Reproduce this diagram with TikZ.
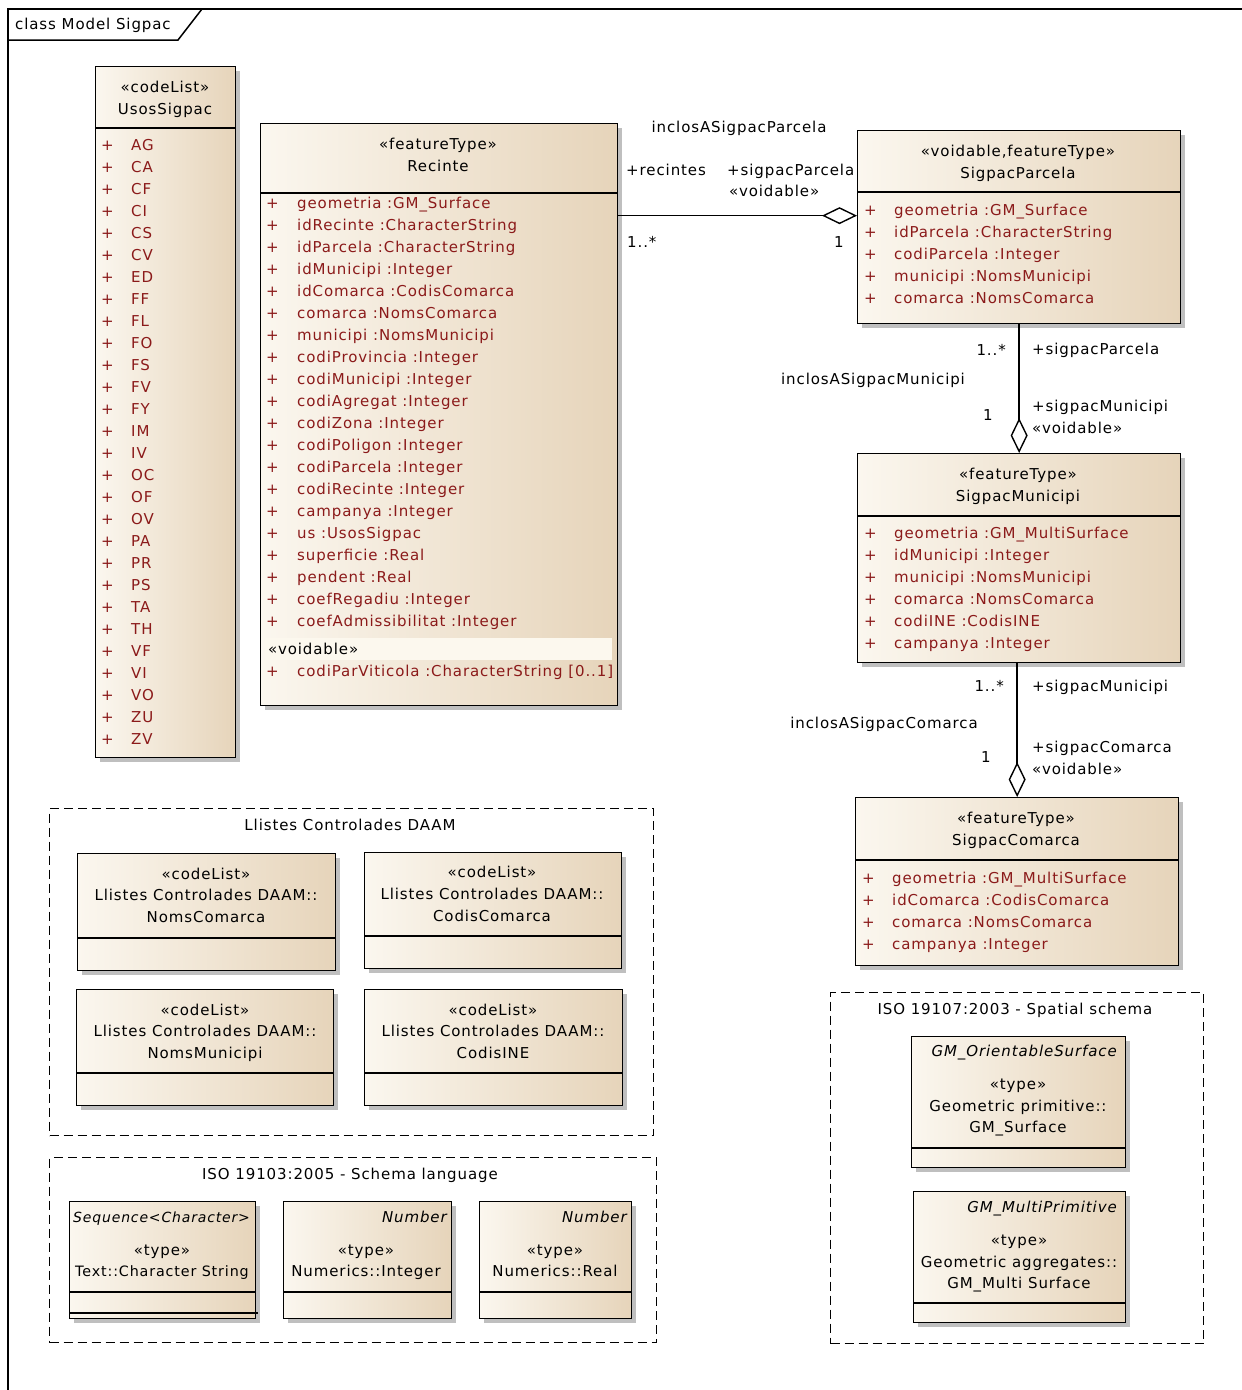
\documentclass[tikz,border=0pt]{standalone}
\usepackage{fontspec}
\setmainfont{DejaVu Sans}[LetterSpace=6]
\usetikzlibrary{positioning,shadows,arrows.meta}

\definecolor{umlpale}{HTML}{FBF7EF}
\definecolor{umltan}{HTML}{E6D4BA}
\definecolor{umlattr}{HTML}{8B1A1A}
\definecolor{umlband}{HTML}{FCF8EE}

\tikzset{
  umlclass/.style={draw, line width=1.3pt, anchor=north west, inner sep=0pt,
    left color=umlpale, right color=umltan,
    drop shadow={shadow xshift=4pt, shadow yshift=-4pt, fill=black, opacity=.25}},
  umlpkg/.style={draw, line width=1.2pt, dash pattern=on 9pt off 5pt,
    anchor=north west, inner sep=0pt},
  lbl/.style={inner sep=0pt, text height=11pt, text depth=0pt,
    font=\fontsize{15}{18}\selectfont},
  attr/.style={lbl, anchor=west, text=umlattr},
  sep/.style={line width=1.3pt},
  aggr/.style={line width=1.4pt, -{Diamond[open, length=35pt, width=17pt]}},
}

\begin{document}
\begin{tikzpicture}[x=1pt, y=-1pt]
\useasboundingbox (0,0) rectangle (1242,1390);
\fill[white] (0,0) rectangle (1242,1390);

% diagram frame
\draw[line width=1.5pt] (1242,9) -- (8,9) -- (8,1390);
\draw[line width=1.5pt] (8,40) -- (178,40) -- (202,9);
\node[lbl, anchor=west] (frame) at (15,24) {class Model Sigpac};

% UsosSigpac
\node[umlclass, minimum width=140pt, minimum height=691pt] (usos) at (95,66) {};
\draw[sep] (95,128) -- (235,128);
\node[lbl] (usos-st) at (165,87) {«codeList»};
\node[lbl] (usos-nm) at (165,109) {UsosSigpac};
\foreach \c [count=\i from 0] in {AG,CA,CF,CI,CS,CV,ED,FF,FL,FO,FS,FV,FY,IM,IV,
    OC,OF,OV,PA,PR,PS,TA,TH,VF,VI,VO,ZU,ZV}
  {\node[attr] (usos-p\i) at (101,{145+22*\i}) {+};
   \node[attr] (usos-\i) at (131,{145+22*\i}) {\c};}

% Recinte
\node[umlclass, minimum width=357pt, minimum height=582pt] (recinte) at (260,123) {};
\draw[sep] (260,193) -- (617,193);
\fill[umlband] (265,638) rectangle (612,660);
\node[lbl] (rec-st) at (438,144) {«featureType»};
\node[lbl] (rec-nm) at (438,166) {Recinte};
\foreach \a/\t [count=\i from 0] in {geometria/GM\_Surface, idRecinte/CharacterString,
    idParcela/CharacterString, idMunicipi/Integer, idComarca/CodisComarca,
    comarca/NomsComarca, municipi/NomsMunicipi, codiProvincia/Integer,
    codiMunicipi/Integer, codiAgregat/Integer, codiZona/Integer, codiPoligon/Integer,
    codiParcela/Integer, codiRecinte/Integer, campanya/Integer, us/UsosSigpac,
    superficie/Real, pendent/Real, coefRegadiu/Integer, coefAdmissibilitat/Integer}
  {\node[attr] (rec-p\i) at (266,{203+22*\i}) {+};
   \node[attr] (rec-\i) at (297,{203+22*\i}) {\a\ :\t};}
\node[lbl, anchor=west] (rec-void) at (268,649) {«voidable»};
\node[attr] (rec-p20) at (266,671) {+};
\node[attr] (rec-20) at (297,671) {codiParViticola\ :CharacterString [0..1]};

% SigpacParcela
\node[umlclass, minimum width=323pt, minimum height=193pt] (parcela) at (857,130) {};
\draw[sep] (857,192) -- (1180,192);
\node[lbl] (par-st) at (1018,151) {«voidable,featureType»};
\node[lbl] (par-nm) at (1018,173) {SigpacParcela};
\foreach \a/\t [count=\i from 0] in {geometria/GM\_Surface, idParcela/CharacterString,
    codiParcela/Integer, municipi/NomsMunicipi, comarca/NomsComarca}
  {\node[attr] (par-p\i) at (864,{210+22*\i}) {+};
   \node[attr] (par-\i) at (894,{210+22*\i}) {\a\ :\t};}

% SigpacMunicipi
\node[umlclass, minimum width=323pt, minimum height=209pt] (municipi) at (857,453) {};
\draw[sep] (857,516) -- (1180,516);
\node[lbl] (mun-st) at (1018,474) {«featureType»};
\node[lbl] (mun-nm) at (1018,496) {SigpacMunicipi};
\foreach \a/\t [count=\i from 0] in {geometria/GM\_MultiSurface, idMunicipi/Integer,
    municipi/NomsMunicipi, comarca/NomsComarca, codiINE/CodisINE, campanya/Integer}
  {\node[attr] (mun-p\i) at (864,{533+22*\i}) {+};
   \node[attr] (mun-\i) at (894,{533+22*\i}) {\a\ :\t};}

% SigpacComarca
\node[umlclass, minimum width=323pt, minimum height=168pt] (comarca) at (855,797) {};
\draw[sep] (855,860) -- (1178,860);
\node[lbl] (com-st) at (1016,818) {«featureType»};
\node[lbl] (com-nm) at (1016,840) {SigpacComarca};
\foreach \a/\t [count=\i from 0] in {geometria/GM\_MultiSurface, idComarca/CodisComarca,
    comarca/NomsComarca, campanya/Integer}
  {\node[attr] (com-p\i) at (862,{878+22*\i}) {+};
   \node[attr] (com-\i) at (892,{878+22*\i}) {\a\ :\t};}

% associations
\coordinate (parcela-in) at ([yshift=11.5pt]parcela.west);
\draw[aggr] (recinte.east |- parcela-in) -- (parcela-in);
\node[lbl] (as1-nm) at (739,127) {inclosASigpacParcela};
\node[lbl, anchor=west] (as1-src) at (626,170) {+recintes};
\node[lbl, anchor=west] (as1-dst) at (727,170) {+sigpacParcela};
\node[lbl, anchor=west] (as1-void) at (729,191) {«voidable»};
\node[lbl, anchor=west] (as1-m1) at (627,242) {1..*};
\node[lbl] (as1-m2) at (839,242) {1};

\draw[aggr] (parcela.south) -- (municipi.north);
\node[lbl] (as2-nm) at (873,379) {inclosASigpacMunicipi};
\node[lbl, anchor=east] (as2-m1) at (1006,350) {1..*};
\node[lbl, anchor=west] (as2-src) at (1032,349) {+sigpacParcela};
\node[lbl] (as2-m2) at (988,415) {1};
\node[lbl, anchor=west] (as2-dst) at (1032,406) {+sigpacMunicipi};
\node[lbl, anchor=west] (as2-void) at (1032,428) {«voidable»};

\draw[aggr] (comarca.north |- municipi.south) -- (comarca.north);
\node[lbl] (as3-nm) at (884,723) {inclosASigpacComarca};
\node[lbl, anchor=east] (as3-m1) at (1004,686) {1..*};
\node[lbl, anchor=west] (as3-src) at (1032,686) {+sigpacMunicipi};
\node[lbl] (as3-m2) at (986,757) {1};
\node[lbl, anchor=west] (as3-dst) at (1032,747) {+sigpacComarca};
\node[lbl, anchor=west] (as3-void) at (1032,769) {«voidable»};

% package Llistes Controlades DAAM
\node[umlpkg, minimum width=604pt, minimum height=327pt] (daam) at (49,808) {};
\node[lbl] (daam-nm) at (350,825) {Llistes Controlades DAAM};
\node[umlclass, minimum width=258pt, minimum height=117pt] (nomscom) at (77,853) {};
\draw[sep] (77,938) -- (335,938);
\node[lbl] (nomscom-1) at (206,874) {«codeList»};
\node[lbl] (nomscom-2) at (206,895) {Llistes Controlades DAAM::};
\node[lbl] (nomscom-3) at (206,917) {NomsComarca};
\node[umlclass, minimum width=257pt, minimum height=116pt] (codiscom) at (364,852) {};
\draw[sep] (364,936) -- (621,936);
\node[lbl] (codiscom-1) at (492,872) {«codeList»};
\node[lbl] (codiscom-2) at (492,894) {Llistes Controlades DAAM::};
\node[lbl] (codiscom-3) at (492,916) {CodisComarca};
\node[umlclass, minimum width=257pt, minimum height=116pt] (nomsmun) at (76,989) {};
\draw[sep] (76,1073) -- (333,1073);
\node[lbl] (nomsmun-1) at (205,1010) {«codeList»};
\node[lbl] (nomsmun-2) at (205,1031) {Llistes Controlades DAAM::};
\node[lbl] (nomsmun-3) at (205,1053) {NomsMunicipi};
\node[umlclass, minimum width=258pt, minimum height=116pt] (codisine) at (364,989) {};
\draw[sep] (364,1073) -- (622,1073);
\node[lbl] (codisine-1) at (493,1010) {«codeList»};
\node[lbl] (codisine-2) at (493,1031) {Llistes Controlades DAAM::};
\node[lbl] (codisine-3) at (493,1053) {CodisINE};

% package ISO 19103
\node[umlpkg, minimum width=607pt, minimum height=185pt] (iso103) at (49,1157) {};
\node[lbl] (iso103-nm) at (350,1174) {ISO 19103:2005 - Schema language};
\node[umlclass, minimum width=186pt, minimum height=117pt] (charstr) at (69,1201) {};
\draw[sep] (69,1292) -- (255,1292);
\draw[sep] (69,1313) -- (258,1313);
\node[lbl, anchor=west, font=\fontsize{14}{18}\itshape] (charstr-1) at (73,1217) {Sequence<Character>};
\node[lbl] (charstr-2) at (162,1250) {«type»};
\node[lbl, font=\fontsize{14.3}{18}\selectfont] (charstr-3) at (162,1271) {Text::Character String};
\node[umlclass, minimum width=168pt, minimum height=117pt] (integer) at (283,1201) {};
\draw[sep] (283,1292) -- (451,1292);
\node[lbl, anchor=east, font=\fontsize{15}{18}\itshape] (integer-1) at (447,1217) {Number};
\node[lbl] (integer-2) at (366,1250) {«type»};
\node[lbl] (integer-3) at (366,1271) {Numerics::Integer};
\node[umlclass, minimum width=152pt, minimum height=117pt] (real) at (479,1201) {};
\draw[sep] (479,1292) -- (631,1292);
\node[lbl, anchor=east, font=\fontsize{15}{18}\itshape] (real-1) at (627,1217) {Number};
\node[lbl] (real-2) at (555,1250) {«type»};
\node[lbl] (real-3) at (555,1271) {Numerics::Real};

% package ISO 19107
\node[umlpkg, minimum width=373pt, minimum height=351pt] (iso107) at (830,992) {};
\node[lbl] (iso107-nm) at (1015,1009) {ISO 19107:2003 - Spatial schema};
\node[umlclass, minimum width=214pt, minimum height=131pt] (gmsurf) at (911,1036) {};
\draw[sep] (911,1148) -- (1125,1148);
\node[lbl, anchor=east, font=\fontsize{15}{18}\itshape] (gmsurf-1) at (1117,1051) {GM\_OrientableSurface};
\node[lbl] (gmsurf-2) at (1018,1084) {«type»};
\node[lbl] (gmsurf-3) at (1018,1106) {Geometric primitive::};
\node[lbl] (gmsurf-4) at (1018,1127) {GM\_Surface};
\node[umlclass, minimum width=212pt, minimum height=131pt] (gmmulti) at (913,1191) {};
\draw[sep] (913,1303) -- (1125,1303);
\node[lbl, anchor=east, font=\fontsize{15}{18}\itshape] (gmmulti-1) at (1117,1207) {GM\_MultiPrimitive};
\node[lbl] (gmmulti-2) at (1019,1240) {«type»};
\node[lbl] (gmmulti-3) at (1019,1262) {Geometric aggregates::};
\node[lbl] (gmmulti-4) at (1019,1283) {GM\_Multi Surface};
\end{tikzpicture}
\end{document}
